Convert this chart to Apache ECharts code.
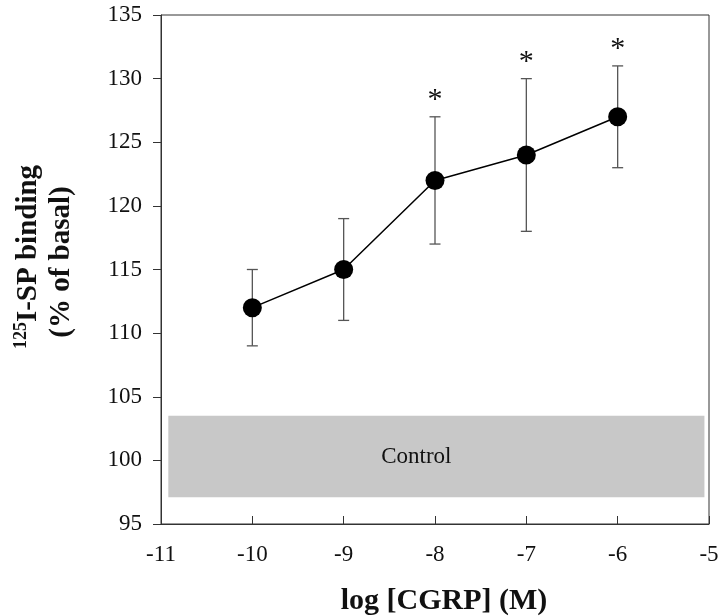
<!DOCTYPE html>
<html>
<head>
<meta charset="utf-8">
<script src="https://cdn.jsdelivr.net/npm/echarts@6/dist/echarts.min.js"></script>
<style>html,body{margin:0;padding:0;background:#fff}#c{width:720px;height:616px}</style>
</head>
<body>
<div id="c"></div>
<script>
const logConc = [-10, -9, -8, -7, -6];
const binding = [112, 115, 122, 124, 127];
const errLow = [109, 111, 117, 118, 123];
const errHigh = [115, 119, 127, 130, 131];
const significant = [false, false, true, true, true];
const controlBand = { xFrom: -10.92, xTo: -5.05, yFrom: 97.1, yTo: 103.5, label: 'Control' };
const xTicks = [-11, -10, -9, -8, -7, -6, -5];
const yTicks = [95, 100, 105, 110, 115, 120, 125, 130, 135];

const font = '"Liberation Serif", "Times New Roman", serif';
const chart = echarts.init(document.getElementById('c'));

const points = logConc.map((x, i) => [x, binding[i]]);
const errData = logConc.map((x, i) => [x, errLow[i], errHigh[i], significant[i] ? 1 : 0]);

chart.setOption({
  animation: false,
  backgroundColor: '#fff',
  grid: { left: 161, right: 11, top: 15, bottom: 92, containLabel: false, outerBoundsMode: 'none', show: true, borderColor: '#333', borderWidth: 1, backgroundColor: 'transparent' },
  xAxis: {
    type: 'value', min: xTicks[0], max: xTicks[xTicks.length - 1], interval: 1,
    name: 'log [CGRP] (M)', nameLocation: 'middle', nameGap: 62,
    nameTextStyle: { fontFamily: font, fontSize: 30, fontWeight: 'bold', color: '#111', padding: [0, 0, 0, 18] },
    axisLine: { lineStyle: { color: '#333', width: 1 } },
    axisTick: { inside: true, length: 8, lineStyle: { color: '#333' } },
    axisLabel: { margin: 19, fontFamily: font, fontSize: 23, color: '#111' },
    splitLine: { show: false }
  },
  yAxis: {
    type: 'value', min: yTicks[0], max: yTicks[yTicks.length - 1], interval: 5,
    axisLine: { show: true, lineStyle: { color: '#333', width: 1 } },
    axisTick: { show: true, inside: false, length: 8, lineStyle: { color: '#333' } },
    axisLabel: { margin: 19, fontFamily: font, fontSize: 23, color: '#111' },
    splitLine: { show: false }
  },
  graphic: [{
    type: 'text', x: 29, y: 257, rotation: Math.PI / 2,
    style: {
      text: '{sup|125}{b|I-SP binding}',
      align: 'center', verticalAlign: 'middle', fill: '#111',
      rich: {
        sup: { fontFamily: font, fontSize: 18, fontWeight: 'bold', verticalAlign: 'top', lineHeight: 33, padding: [0, 0, 10, 0] },
        b: { fontFamily: font, fontSize: 29, fontWeight: 'bold', lineHeight: 33 }
      }
    }
  }, {
    type: 'text', x: 62, y: 262, rotation: Math.PI / 2,
    style: {
      text: '(% of basal)',
      align: 'center', verticalAlign: 'middle', fill: '#111',
      font: 'bold 29px ' + font
    }
  }],
  series: [
    {
      type: 'line', data: points, symbol: 'circle', symbolSize: 19, z: 5,
      itemStyle: { color: '#000' }, lineStyle: { color: '#000', width: 1.5 },
      markArea: {
        silent: true,
        itemStyle: { color: '#c8c8c8' },
        label: { show: true, position: 'inside', offset: [-20, 0], fontFamily: font, fontSize: 23, color: '#111' },
        data: [[
          { name: controlBand.label, coord: [controlBand.xFrom, controlBand.yFrom] },
          { coord: [controlBand.xTo, controlBand.yTo] }
        ]]
      }
    },
    {
      type: 'custom', data: errData, z: 4,
      renderItem: function (params, api) {
        const x = api.value(0);
        const lo = api.coord([x, api.value(1)]);
        const hi = api.coord([x, api.value(2)]);
        const hw = 5.5;
        const st = { stroke: '#555', lineWidth: 1.3 };
        const children = [
          { type: 'line', shape: { x1: lo[0], y1: lo[1], x2: hi[0], y2: hi[1] }, style: st },
          { type: 'line', shape: { x1: lo[0] - hw, y1: lo[1], x2: lo[0] + hw, y2: lo[1] }, style: st },
          { type: 'line', shape: { x1: hi[0] - hw, y1: hi[1], x2: hi[0] + hw, y2: hi[1] }, style: st }
        ];
        if (api.value(3)) {
          children.push({ type: 'text', x: hi[0], y: hi[1] - 17, style: { text: '*', font: 'normal 30px ' + font, align: 'center', verticalAlign: 'middle', fill: '#111' } });
        }
        return { type: 'group', children: children };
      }
    }
  ]
});
</script>
</body>
</html>
